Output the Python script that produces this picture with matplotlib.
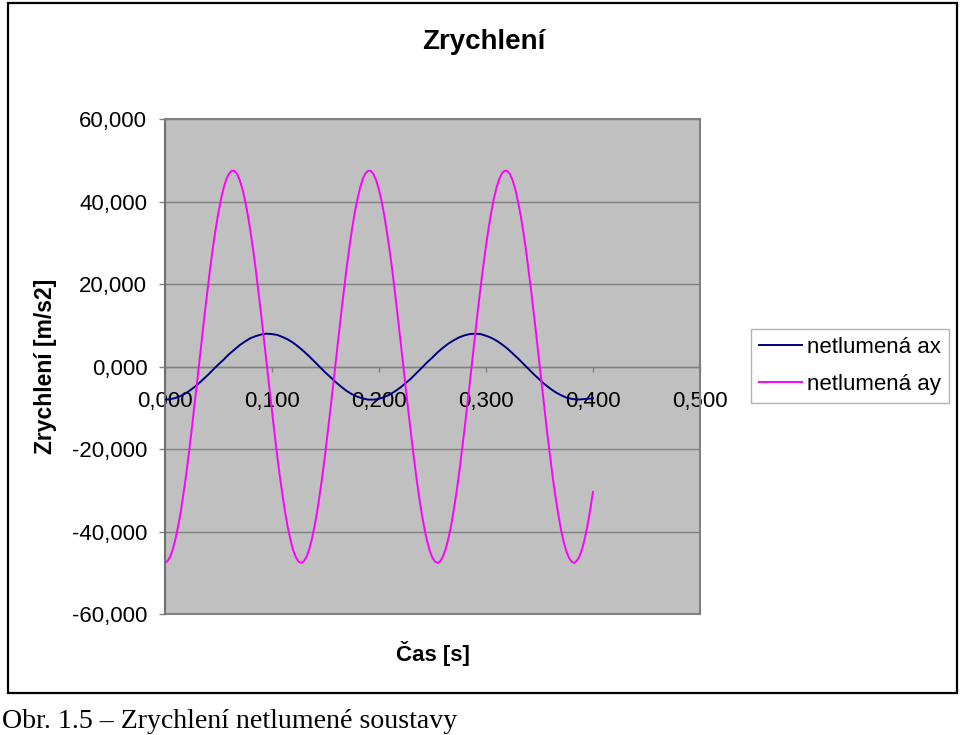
import numpy as np
import matplotlib
matplotlib.use('Agg')
import matplotlib.pyplot as plt
from matplotlib.patches import Rectangle
from matplotlib.ticker import FuncFormatter, MultipleLocator

# Data
cas_ax = np.linspace(0.0, 0.4, 81)     # every 0.005 s
cas_ay = np.linspace(0.0, 0.4, 161)    # every 0.0025 s
ax_netlumena = [
    -8.0, -7.9, -7.6, -7.1, -6.4, -5.5, -4.5, -3.3, -2.1, -0.8,
    0.5, 1.7, 3.0, 4.1, 5.2, 6.1, 6.9, 7.4, 7.8, 8.0,
    7.9, 7.7, 7.2, 6.6, 5.8, 4.8, 3.7, 2.5, 1.2, -0.1,
    -1.4, -2.6, -3.8, -4.9, -5.9, -6.7, -7.3, -7.7, -8.0, -8.0,
    -7.8, -7.4, -6.8, -6.0, -5.1, -4.0, -2.9, -1.6, -0.3, 1.0,
    2.2, 3.5, 4.6, 5.6, 6.4, 7.1, 7.6, 7.9, 8.0, 7.9,
    7.5, 7.0, 6.3, 5.4, 4.4, 3.2, 2.0, 0.7, -0.6, -1.9,
    -3.1, -4.3, -5.3, -6.2, -6.9, -7.5, -7.8, -8.0, -7.9, -7.8,
    -7.7,
]
ay_netlumena = [
    -47.6, -47.2, -46.2, -44.4, -41.9, -38.8, -35.2, -30.9, -26.3, -21.2,
    -15.8, -10.1, -4.3, 1.5, 7.4, 13.1, 18.6, 23.9, 28.8, 33.2,
    37.1, 40.5, 43.3, 45.4, 46.8, 47.5, 47.5, 46.8, 45.3, 43.2,
    40.4, 37.0, 33.0, 28.6, 23.7, 18.4, 12.9, 7.1, 1.3, -4.6,
    -10.4, -16.0, -21.4, -26.5, -31.1, -35.3, -39.0, -42.0, -44.5, -46.2,
    -47.3, -47.6, -47.2, -46.1, -44.3, -41.8, -38.7, -35.0, -30.7, -26.1,
    -21.0, -15.5, -9.9, -4.1, 1.8, 7.6, 13.3, 18.8, 24.1, 28.9,
    33.4, 37.3, 40.6, 43.4, 45.5, 46.9, 47.5, 47.5, 46.7, 45.2,
    43.1, 40.3, 36.8, 32.8, 28.4, 23.5, 18.2, 12.6, 6.9, 1.0,
    -4.8, -10.6, -16.2, -21.6, -26.7, -31.3, -35.5, -39.1, -42.2, -44.6,
    -46.3, -47.3, -47.6, -47.2, -46.0, -44.2, -41.7, -38.6, -34.8, -30.6,
    -25.9, -20.7, -15.3, -9.7, -3.9, 2.0, 7.8, 13.6, 19.1, 24.3,
    29.1, 33.5, 37.4, 40.8, 43.5, 45.5, 46.9, 47.5, 47.5, 46.7,
    45.2, 43.0, 40.1, 36.7, 32.7, 28.2, 23.2, 18.0, 12.4, 6.7,
    0.8, -5.1, -10.8, -16.5, -21.8, -26.9, -31.5, -35.6, -39.3, -42.3,
    -44.6, -46.3, -47.3, -47.6, -47.1, -46.0, -44.1, -41.6, -38.4, -34.7,
    -30.4,
]
popisky = ['netlumená ax', 'netlumená ay']

plt.rcParams['font.family'] = ['Liberation Sans', 'DejaVu Sans']

fig = plt.figure(figsize=(9.6, 7.35), dpi=100)
ax = fig.add_axes([164.7 / 960, 121 / 735, 535.3 / 960, 494.7 / 735])
ax.set_facecolor('#C0C0C0')

ax.plot(cas_ax, ax_netlumena, color='#000080', lw=1.4, label=popisky[0], zorder=3)
ax.plot(cas_ay, ay_netlumena, color='#FF00FF', lw=1.4, label=popisky[1], zorder=3)

ax.set_xlim(0, 0.5)
ax.set_ylim(-60, 60)
ax.yaxis.set_major_locator(MultipleLocator(20))
ax.xaxis.set_major_locator(MultipleLocator(0.1))
fmt = FuncFormatter(lambda v, _: f"{v:.3f}".replace('.', ','))
ax.xaxis.set_major_formatter(fmt)
ax.yaxis.set_major_formatter(fmt)

ax.grid(axis='y', color='#808080', lw=1.0, zorder=1)
ax.set_axisbelow(True)
for s in ['top', 'right']:
    ax.spines[s].set_color('#808080')
    ax.spines[s].set_linewidth(1.5)
ax.spines['left'].set_color('#707070')
ax.spines['left'].set_linewidth(1.5)
ax.spines['bottom'].set_position(('data', 0))
ax.spines['bottom'].set_color('#808080')
ax.spines['bottom'].set_linewidth(1.0)
# plot area border at the bottom
ax.axhline(-60, color='#808080', lw=1.5, clip_on=False, zorder=2)

ax.tick_params(axis='y', direction='out', length=4.5, width=1, color='#808080',
               labelsize=16, pad=8)
ax.tick_params(axis='x', direction='out', length=3.5, width=1, color='#808080',
               labelsize=16, pad=14)

fig.text(483.7 / 960, 1 - 42 / 735, 'Zrychlení', ha='center', va='center',
         fontsize=20, fontweight='bold')
fig.text(46 / 960, 1 - 366.5 / 735, 'Zrychlení [m/s2]', ha='center', va='center',
         rotation=90, fontsize=16.5, fontweight='bold')
fig.text(433 / 960, 1 - 653 / 735, 'Čas [s]', ha='center', va='center',
         fontsize=16, fontweight='bold')

leg = fig.legend(loc='upper left', bbox_to_anchor=(751 / 960, 1 - 329 / 735),
                 borderaxespad=0, fontsize=16, handlelength=1.95, handletextpad=0.22,
                 labelspacing=0.72, borderpad=0.36, fancybox=False, frameon=True)
leg.get_frame().set_edgecolor('#A0A0A0')
leg.get_frame().set_linewidth(1.0)

fig.patches.append(Rectangle((8 / 960, 42 / 735), 949 / 960, 690 / 735,
                             transform=fig.transFigure, fill=False,
                             edgecolor='black', lw=1.6))

fig.text(2 / 960, 1 - 728 / 735, 'Obr. 1.5 – Zrychlení netlumené soustavy',
         ha='left', va='baseline', fontsize=20.1, family='Liberation Serif')

fig.savefig('out.png', dpi=100)
